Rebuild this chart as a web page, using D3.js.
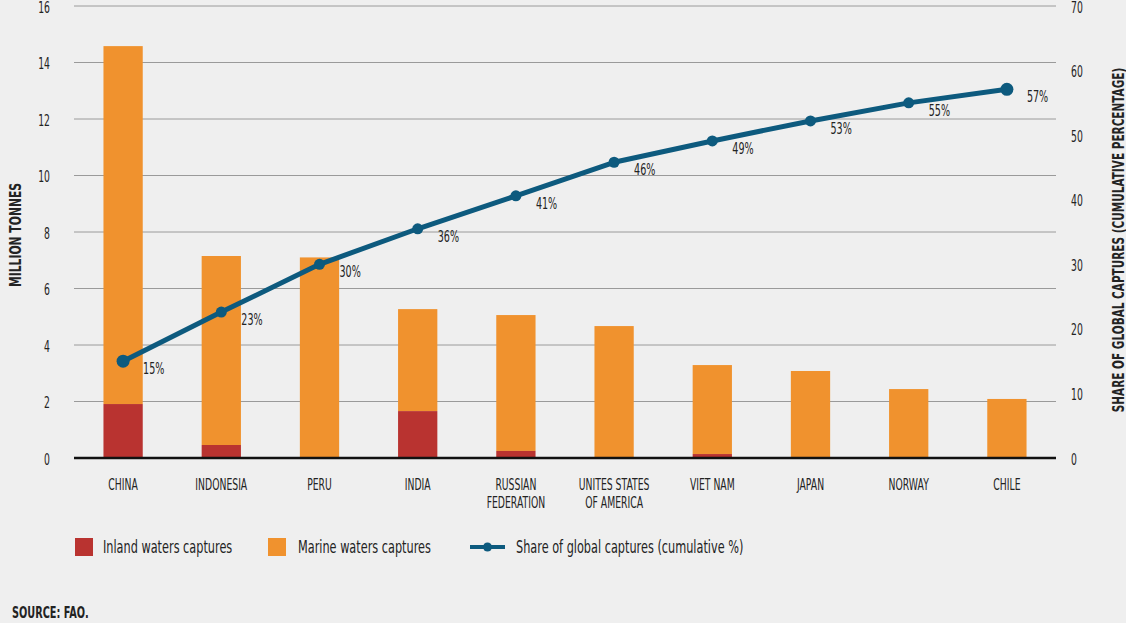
<!DOCTYPE html>
<html><head><meta charset="utf-8">
<script src="https://cdn.jsdelivr.net/npm/d3@7"></script>
<style>
body{margin:0;background:#efefef;}
svg{display:block;}
text{font-family:"DejaVu Sans",sans-serif;fill:#232323;}
</style></head><body>
<svg id="c" width="1126" height="623"></svg>
<script>
const categories = ["CHINA","INDONESIA","PERU","INDIA","RUSSIAN FEDERATION","UNITES STATES OF AMERICA","VIET NAM","JAPAN","NORWAY","CHILE"];
const categoryLines = [["CHINA"],["INDONESIA"],["PERU"],["INDIA"],["RUSSIAN","FEDERATION"],["UNITES STATES","OF AMERICA"],["VIET NAM"],["JAPAN"],["NORWAY"],["CHILE"]];
const inland = [1.91,0.46,0.0,1.66,0.25,0.0,0.14,0.0,0.0,0.0];
const marine = [12.67,6.69,7.1,3.61,4.81,4.67,3.15,3.08,2.44,2.09];
const shareValues = [15.0,22.6,30.0,35.5,40.6,45.8,49.1,52.2,55.0,57.1];
const shareLabels = ["15%","23%","30%","36%","41%","46%","49%","53%","55%","57%"];
const leftTicks = [0,2,4,6,8,10,12,14,16];
const rightTicks = [0,10,20,30,40,50,60,70];

const svg = d3.select("#c");
const x0 = 74, x1 = 1056, yTop = 6, yBot = 458;
const x = d3.scaleBand().domain(categories).range([x0,x1]).paddingInner(0.6).paddingOuter(0.3);
const y = d3.scaleLinear().domain([0,16]).range([yBot,yTop]);
const y2 = d3.scaleLinear().domain([0,70]).range([yBot,yTop]);

// horizontally condense text around its anchor point
function condense(sel, s){
  sel.each(function(){
    const t = d3.select(this);
    const xa = +t.attr("x")||0, ya = +t.attr("y")||0;
    const prev = t.attr("transform")||"";
    t.attr("transform", `${prev} translate(${xa},${ya}) scale(${s},1) translate(${-xa},${-ya})`);
  });
}

// gridlines
svg.append("g").selectAll("line").data(leftTicks.filter(d=>d>0)).join("line")
  .attr("x1",x0).attr("x2",x1).attr("y1",d=>y(d)).attr("y2",d=>y(d))
  .attr("stroke","#9a9a9a").attr("stroke-width",1);

// left axis labels
const la = svg.append("g").attr("transform",`translate(${x0},0)`)
  .call(d3.axisLeft(y).tickValues(leftTicks).tickSize(0).tickPadding(24).tickFormat(d3.format("d")));
la.select(".domain").remove();
la.selectAll("text").style("font-size","16px").style("font-family","'DejaVu Sans',sans-serif").attr("fill","#232323").attr("dy","0.38em");
condense(la.selectAll("text"),0.58);

const ra = svg.append("g").attr("transform",`translate(${x1},0)`)
  .call(d3.axisRight(y2).tickValues(rightTicks).tickSize(0).tickPadding(15).tickFormat(d3.format("d")));
ra.select(".domain").remove();
ra.selectAll("text").style("font-size","16px").style("font-family","'DejaVu Sans',sans-serif").attr("fill","#232323").attr("dy","0.38em");
condense(ra.selectAll("text"),0.58);

// bars
const bw = x.bandwidth();
svg.append("g").selectAll("rect").data(categories).join("rect")
  .attr("x",d=>x(d)).attr("width",bw)
  .attr("y",(d,i)=>y(inland[i]+marine[i])).attr("height",(d,i)=>y(inland[i])-y(inland[i]+marine[i]))
  .attr("fill","#f0922e");
svg.append("g").selectAll("rect").data(categories).join("rect")
  .attr("x",d=>x(d)).attr("width",bw)
  .attr("y",(d,i)=>y(inland[i])).attr("height",(d,i)=>y(0)-y(inland[i]))
  .attr("fill","#b93330");

// zero line
svg.append("line").attr("x1",x0).attr("x2",x1).attr("y1",y(0)).attr("y2",y(0)).attr("stroke","#111").attr("stroke-width",2.5);

// category labels
const cx = d=>x(d)+bw/2;
const cl = svg.append("g").selectAll("text").data(categories).join("text")
  .attr("x",cx).attr("y",490).attr("text-anchor","middle").style("font-size","16px");
cl.each(function(d,i){
  const t=d3.select(this);
  categoryLines[i].forEach((ln,j)=>t.append("tspan").attr("x",cx(d)).attr("dy",j?18:0).text(ln));
});
condense(cl,0.58);

// line
const lineColor = "#0d5a7e";
const pts = categories.map((c,i)=>[cx(c), y2(shareValues[i])]);
svg.append("path").attr("d",d3.line()(pts)).attr("fill","none").attr("stroke",lineColor).attr("stroke-width",5).attr("stroke-linejoin","round");
svg.append("g").selectAll("circle").data(pts).join("circle")
  .attr("cx",d=>d[0]).attr("cy",d=>d[1]).attr("r",(d,i)=>(i===0||i===pts.length-1)?6.5:5.5).attr("fill",lineColor);
const pl = svg.append("g").selectAll("text").data(pts).join("text")
  .attr("x",d=>d[0]+20).attr("y",d=>d[1]+13).attr("text-anchor","start").style("font-size","16px")
  .text((d,i)=>shareLabels[i]);
condense(pl,0.6);

// axis titles
const t1 = svg.append("text").attr("transform","translate(21,235) rotate(-90)").attr("text-anchor","middle")
  .style("font-size","15px").style("font-weight","bold").text("MILLION TONNES");
condense(t1,0.72);
const t2 = svg.append("text").attr("transform","translate(1124,240) rotate(-90)").attr("text-anchor","middle")
  .style("font-size","15px").style("font-weight","bold").text("SHARE OF GLOBAL CAPTURES (CUMULATIVE PERCENTAGE)");
condense(t2,0.70);

// legend
const lg = svg.append("g");
lg.append("rect").attr("x",75).attr("y",538).attr("width",18).attr("height",18).attr("fill","#b93330");
lg.append("rect").attr("x",268).attr("y",538).attr("width",18).attr("height",18).attr("fill","#f0922e");
lg.append("line").attr("x1",470).attr("x2",505).attr("y1",547).attr("y2",547).attr("stroke",lineColor).attr("stroke-width",4);
lg.append("circle").attr("cx",487.5).attr("cy",547).attr("r",4.5).attr("fill",lineColor);
const lt = lg.selectAll("text.lt").data([[103,"Inland waters captures"],[298,"Marine waters captures"],[516,"Share of global captures (cumulative %)"]]).join("text")
  .attr("class","lt").attr("x",d=>d[0]).attr("y",553).style("font-size","17px").text(d=>d[1]);
condense(lt,0.665);

const src = svg.append("text").attr("x",12).attr("y",618).style("font-size","15px").style("font-weight","bold").text("SOURCE: FAO.");
condense(src,0.65);
</script>
</body></html>
